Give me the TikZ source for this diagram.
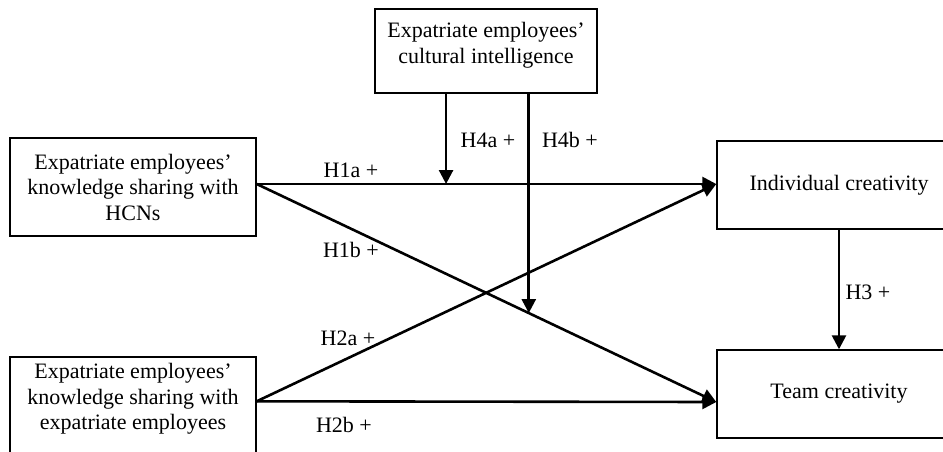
\documentclass[tikz,border=0pt]{standalone}
\usepackage{fontspec}
\setmainfont{Liberation Serif}
\usetikzlibrary{arrows.meta,calc}
\begin{document}
\begin{tikzpicture}[x=1pt,y=-1pt,
  box/.style={draw,line width=1.4pt,minimum width=244pt,minimum height=88pt,inner sep=0pt,align=center,font=\fontsize{22}{25.5}\selectfont},
  txt/.style={inner sep=0pt,align=center,font=\fontsize{22}{25.5}\selectfont},
  lab/.style={inner sep=0pt,font=\fontsize{22}{25.5}\selectfont},
  conn/.style={line width=2.6pt,-{Triangle[width=14pt,length=14pt]}}]
\clip (0,0) rectangle (943,451);
\node[box,minimum width=222pt,minimum height=84pt] (cq) at (486,51) {};
\node[txt] (cqtext) at (486,45) {Expatriate employees’\\cultural intelligence};
\node[box,minimum width=246pt,minimum height=98pt] (hcn) at (133,187) {Expatriate employees’\\knowledge sharing with\\HCNs};
\node[box,minimum width=246pt,minimum height=120pt] (exp) at (133,417) {};
\node[txt] (exptext) at (133,399) {Expatriate employees’\\knowledge sharing with\\expatriate employees};
\node[box] (ind) at (839,185) {Individual creativity};
\node[box] (team) at (839,394) {Team creativity};
\coordinate (hcnout) at ($(hcn.east)+(0,-3)$);
\coordinate (expout) at ($(exp.north east)+(0,45)$);
\coordinate (indin) at ($(ind.west)+(0,-1)$);
\coordinate (teamin) at ($(team.west)+(0,8)$);
\draw[conn] (hcnout) -- (indin);
\draw[conn] (hcnout) -- (teamin);
\draw[conn] (expout) -- (indin);
\draw[conn] (expout) -- (teamin);
\draw[conn] (ind.south) -- (team.north);
\coordinate (m1) at ($(hcnout)!0.412!(indin)$);
\coordinate (m2) at ($(hcnout)!0.592!(teamin)$);
\draw[conn] (cq.south -| m1) -- (m1);
\draw[conn] (cq.south -| m2) -- (m2);
\node[lab] (l1a) at (351,170) {H1a +};
\node[lab] (l1b) at (351,250) {H1b +};
\node[lab] (l2a) at (348,338) {H2a +};
\node[lab] (l2b) at (344,425) {H2b +};
\node[lab] (l4a) at (488,140) {H4a +};
\node[lab] (l4b) at (570,140) {H4b +};
\node[lab] (l3) at (868,292) {H3 +};
\end{tikzpicture}
\end{document}
